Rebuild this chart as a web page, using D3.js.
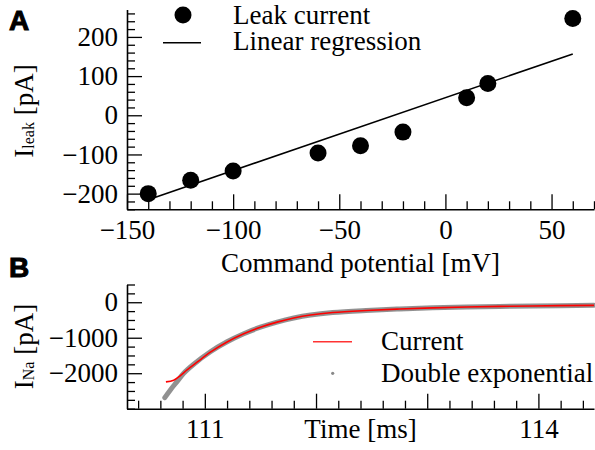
<!DOCTYPE html>
<html>
<head>
<meta charset="utf-8">
<script src="https://cdn.jsdelivr.net/npm/d3@7"></script>
<style>
  body { margin: 0; background: #fff; }
  svg { display: block; }
</style>
</head>
<body>
<svg id="chart" width="595" height="450"></svg>
<script>
  "use strict";

  // Panel A: leak current vs command potential
  var commandPotential = [-140, -120, -100, -60, -40, -20, 10, 20, 60];
  var leakCurrent = [-200, -166, -142, -96, -78, -43, 45, 81, 247];
  var regressionSlope = 1.86;      // pA / mV
  var regressionIntercept = 45;    // pA at 0 mV
  var regressionRange = [-140, 60];

  // Panel B: sodium current and its double exponential fit
  var currentTime = [110.65, 110.72, 110.78, 110.84, 110.93, 111.05, 111.2, 111.35, 111.5, 111.65,
                     111.8, 111.95, 112.15, 112.45, 112.75, 113.05, 113.35, 113.65, 113.95, 114.5];
  var currentValue = [-2245, -2197, -2067, -1907, -1690, -1408, -1120, -890, -705, -560,
                      -445, -360, -290, -232, -190, -158, -135, -117, -104, -88];
  var fitTime = [110.64, 110.69, 110.75, 110.81, 110.9, 111.05, 111.2, 111.35, 111.5, 111.65,
                 111.8, 111.95, 112.15, 112.45, 112.75, 113.05, 113.35, 113.65, 113.95, 114.5];
  var fitValue = [-2687, -2470, -2237, -2000, -1746, -1395, -1115, -888, -704, -560,
                  -445, -360, -290, -232, -190, -158, -135, -117, -104, -88];

  var ticksAX = [-150, -100, -50, 0, 50];
  var ticksAY = [-200, -100, 0, 100, 200];
  var ticksBY = [-2000, -1000, 0];
  var ticksBX = [111, 112, 113, 114];
  var labelsBX = [111, 114];

  var SERIF = "'Liberation Serif', 'Times New Roman', Times, serif";
  var SANS = "'Liberation Sans', Arial, 'DejaVu Sans', sans-serif";
  var FS = "27px";

  var svg = d3.select("#chart");

  var left = 127, right = 594;

  //Scales
  var xA = d3.scaleLinear().domain([-150, 70]).range([left, right]);
  var yA = d3.scaleLinear().domain([-240, 270]).range([209.3, 9.5]);
  var xB = d3.scaleLinear().domain([110.3, 114.5]).range([left, right]);
  var yB = d3.scaleLinear().domain([-3000, 500]).range([408.7, 284.5]);

  function minorTicks(scale, step, skip) {
    var d = scale.domain();
    return d3.range(Math.ceil(d[0] / step - 1e-6), Math.floor(d[1] / step + 1e-6) + 1)
      .map(function(i) { return +(i * step).toFixed(4); })
      .filter(function(v) { return skip.indexOf(v) < 0; });
  }

  function fmt(d) { return String(d).replace("-", "\u2212"); }

  function styleAxis(g) {
    g.attr("font-family", null).attr("font-size", null);
    g.selectAll(".domain").attr("stroke-width", 1.6);
    g.selectAll(".tick line").attr("stroke-width", 1.3);
    g.selectAll(".tick text")
      .style("font-family", SERIF)
      .style("font-size", FS);
  }

  function drawAxes(x, y, xTicks, xLabels, yTicks, xStep, yStep) {
    var xy = y.range()[0];
    svg.append("g")
      .attr("transform", "translate(0," + xy + ")")
      .call(d3.axisBottom(x).tickValues(minorTicks(x, xStep, xTicks))
        .tickSizeInner(-8).tickSizeOuter(0).tickFormat(""))
      .call(function(g) { g.select(".domain").remove(); })
      .call(styleAxis);
    svg.append("g")
      .attr("transform", "translate(0," + xy + ")")
      .call(d3.axisBottom(x).tickValues(xTicks).tickSizeInner(-15).tickSizeOuter(0)
        .tickPadding(10.5)
        .tickFormat(function(d) { return xLabels.indexOf(d) < 0 ? "" : fmt(d); }))
      .call(styleAxis);

    svg.append("g")
      .attr("transform", "translate(" + left + ",0)")
      .call(d3.axisLeft(y).tickValues(minorTicks(y, yStep, yTicks))
        .tickSizeInner(-8).tickSizeOuter(0).tickFormat(""))
      .call(function(g) { g.select(".domain").remove(); })
      .call(styleAxis);
    svg.append("g")
      .attr("transform", "translate(" + left + ",0)")
      .call(d3.axisLeft(y).tickValues(yTicks).tickSizeInner(-15).tickSizeOuter(0)
        .tickPadding(9)
        .tickFormat(fmt))
      .call(styleAxis);
  }

  function addText(x, y, str, anchor) {
    return svg.append("text")
      .attr("x", x).attr("y", y)
      .attr("text-anchor", anchor || "start")
      .style("font-family", SERIF)
      .style("font-size", FS)
      .text(str);
  }

  function yLabel(cy, sub) {
    var t = svg.append("text")
      .attr("transform", "translate(33," + cy + ") rotate(-90)")
      .attr("text-anchor", "middle")
      .style("font-family", SERIF)
      .style("font-size", FS);
    t.append("tspan").text("I");
    t.append("tspan").style("font-size", "16px").attr("dy", 1).text(sub);
    t.append("tspan").attr("dy", -1).text(" [pA]");
  }

  function panelLetter(letter, y) {
    svg.append("text")
      .attr("x", 9).attr("y", y)
      .style("font-family", SANS)
      .style("font-weight", "900")
      .style("font-size", "28px")
      .attr("stroke", "#000")
      .attr("stroke-width", 1)
      .text(letter);
  }

  /*** Panel A ***/
  drawAxes(xA, yA, ticksAX, ticksAX, ticksAY, 10, 20);

  var line = d3.line().x(function(d) { return xA(d); })
    .y(function(d) { return yA(regressionSlope * d + regressionIntercept); });
  svg.append("path")
    .attr("d", line(regressionRange))
    .attr("fill", "none")
    .attr("stroke", "#000")
    .attr("stroke-width", 1.6);

  svg.append("g").selectAll("circle")
    .data(commandPotential)
    .enter()
    .append("circle")
    .attr("cx", function(d) { return xA(d); })
    .attr("cy", function(d, i) { return yA(leakCurrent[i]); })
    .attr("r", 8.5)
    .attr("fill", "#000");

  // legend A
  svg.append("circle").attr("cx", 183).attr("cy", 15).attr("r", 8.5).attr("fill", "#000");
  svg.append("line").attr("x1", 163).attr("x2", 201).attr("y1", 42.7).attr("y2", 42.7)
    .attr("stroke", "#000").attr("stroke-width", 1.6);
  addText(233, 24, "Leak current");
  addText(233, 50, "Linear regression");

  addText((left + right) / 2, 272, "Command potential [mV]", "middle");
  yLabel(111, "leak");
  panelLetter("A", 30);

  /*** Panel B ***/
  drawAxes(xB, yB, ticksBX, labelsBX, ticksBY, 0.2, 250);

  var defs = svg.append("defs");
  defs.append("clipPath").attr("id", "clipB")
    .append("rect").attr("x", left).attr("y", 284).attr("width", right - left + 2).attr("height", 125);
  defs.append("filter").attr("id", "soft")
    .attr("x", "-5%").attr("y", "-5%").attr("width", "110%").attr("height", "110%")
    .append("feGaussianBlur").attr("stdDeviation", 0.7);

  var lineB = d3.line()
    .x(function(d) { return xB(d[0]); })
    .y(function(d) { return yB(d[1]); })
    .curve(d3.curveCatmullRom.alpha(0.5));

  var plotB = svg.append("g").attr("clip-path", "url(#clipB)");
  plotB.append("path")
    .attr("d", lineB(d3.zip(fitTime, fitValue)))
    .attr("fill", "none")
    .attr("stroke", "#6e6e6e")
    .attr("stroke-opacity", 0.75)
    .attr("stroke-width", 5)
    .attr("stroke-linecap", "round")
    .attr("filter", "url(#soft)");
  plotB.append("path")
    .attr("d", lineB(d3.zip(currentTime, currentValue)))
    .attr("fill", "none")
    .attr("stroke", "#ff0000")
    .attr("stroke-width", 1.6);

  // legend B
  svg.append("line").attr("x1", 313).attr("x2", 352).attr("y1", 341.7).attr("y2", 341.7)
    .attr("stroke", "#ff3333").attr("stroke-width", 1.6);
  svg.append("circle").attr("cx", 332.7).attr("cy", 373.3).attr("r", 1.6).attr("fill", "#888");
  addText(381, 350, "Current");
  addText(381, 381.7, "Double exponential");

  addText((left + right) / 2, 438.3, "Time [ms]", "middle");
  yLabel(346.5, "Na");
  panelLetter("B", 277);
</script>
</body>
</html>
